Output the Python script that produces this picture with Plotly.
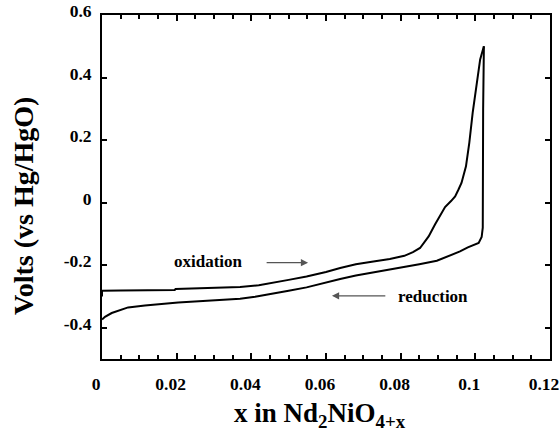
import plotly.graph_objects as go

# Oxidation branch (x in Nd2NiO4+x, volts vs Hg/HgO)
ox_x = [0.0, 0.0, 0.005, 0.0195, 0.0197, 0.030, 0.037, 0.042, 0.0458, 0.050, 0.0548,
        0.060, 0.0638, 0.068, 0.0727, 0.0771, 0.0810, 0.0833, 0.0852, 0.0875, 0.0892,
        0.0905, 0.0919, 0.0935, 0.0946, 0.0955, 0.0963, 0.0975, 0.0984, 0.0993,
        0.1002, 0.1013, 0.1023]
ox_y = [-0.300, -0.282, -0.281, -0.279, -0.276, -0.273, -0.270, -0.264, -0.257, -0.247,
        -0.236, -0.222, -0.209, -0.197, -0.188, -0.180, -0.170, -0.158, -0.145, -0.108,
        -0.070, -0.042, -0.014, 0.005, 0.020, 0.042, 0.063, 0.116, 0.192, 0.288,
        0.372, 0.458, 0.500]

# Reduction branch
red_x = [0.1023, 0.1021, 0.1020, 0.1017, 0.1009, 0.0980, 0.0959, 0.0930, 0.0897,
         0.0850, 0.0807, 0.0771, 0.0727, 0.0680, 0.0638, 0.0590, 0.0548, 0.0500,
         0.0458, 0.0410, 0.0370, 0.0295, 0.0204, 0.0115, 0.0070, 0.0026, 0.0008, 0.0]
red_y = [0.500, 0.300, -0.080, -0.110, -0.129, -0.143, -0.156, -0.170, -0.186,
         -0.197, -0.206, -0.212, -0.222, -0.233, -0.244, -0.258, -0.271, -0.282,
         -0.292, -0.301, -0.307, -0.3125, -0.319, -0.329, -0.335, -0.353, -0.365, -0.374]

y_ticks = [-0.4, -0.2, 0, 0.2, 0.4, 0.6]
y_labels = ["-0.4", "-0.2", "0", "0.2", "0.4", "0.6"]
x_ticks = [0, 0.02, 0.04, 0.06, 0.08, 0.1, 0.12]
x_labels = ["0", "0.02", "0.04", "0.06", "0.08", "0.1", "0.12"]

FONT = "Liberation Serif"

fig = go.Figure()
fig.add_trace(go.Scatter(x=ox_x, y=ox_y, mode="lines",
                         line=dict(color="black", width=2), showlegend=False))
fig.add_trace(go.Scatter(x=red_x, y=red_y, mode="lines",
                         line=dict(color="black", width=2), showlegend=False))

axis_common = dict(showgrid=False, zeroline=False, showline=True, linecolor="black",
                   linewidth=2, mirror="ticks", ticks="inside", tickcolor="black",
                   tickwidth=1.5, automargin=False, ticklabeloverflow="allow",
                   tickfont=dict(family=FONT, size=17.5, color="black", weight="bold"))

fig.update_xaxes(range=[0, 0.12001], tickvals=x_ticks, ticktext=x_labels, ticklen=6,
                 minor=dict(dtick=0.005, ticks="inside", ticklen=4, tickcolor="black", tickwidth=1.5),
                 ticklabelstandoff=8, ticklabelshift=-6, **axis_common)
fig.update_yaxes(range=[-0.5, 0.60001], tickvals=y_ticks, ticktext=y_labels, ticklen=5,
                 ticklabelstandoff=5, ticklabelshift=-4, **axis_common)

fig.add_annotation(text="oxidation", x=0.0284, y=-0.189, xref="x", yref="y", showarrow=False,
                   font=dict(family=FONT, size=17, color="black", weight="bold"))
fig.add_annotation(text="reduction", x=0.0887, y=-0.300, xref="x", yref="y", showarrow=False,
                   font=dict(family=FONT, size=17, color="black", weight="bold"))
fig.add_annotation(x=0.0552, y=-0.192, ax=0.0437, ay=-0.192, xref="x", yref="y",
                   axref="x", ayref="y", showarrow=True, arrowhead=2, arrowsize=1.2,
                   arrowwidth=1.2, arrowcolor="#555555", text="")
fig.add_annotation(x=0.0616, y=-0.298, ax=0.0763, ay=-0.298, xref="x", yref="y",
                   axref="x", ayref="y", showarrow=True, arrowhead=2, arrowsize=1.2,
                   arrowwidth=1.2, arrowcolor="#555555", text="")

fig.add_annotation(text="Volts (vs Hg/HgO)", x=-0.174, y=0.445, xref="paper", yref="paper",
                   xanchor="center", yanchor="middle", textangle=-90, showarrow=False,
                   font=dict(family=FONT, size=28, color="black", weight="bold"))
fig.add_annotation(text="x in Nd<sub>2</sub>NiO<sub>4+x</sub>", x=0.487, y=-0.163,
                   xref="paper", yref="paper", xanchor="center", yanchor="middle",
                   showarrow=False,
                   font=dict(family=FONT, size=27, color="black", weight="bold"))

fig.update_layout(width=560, height=437, margin=dict(l=102, r=10, t=15, b=78),
                  plot_bgcolor="white", paper_bgcolor="white")

fig.write_html("out.html", config={"displayModeBar": False},
               post_script="document.body.style.margin='0px';")
